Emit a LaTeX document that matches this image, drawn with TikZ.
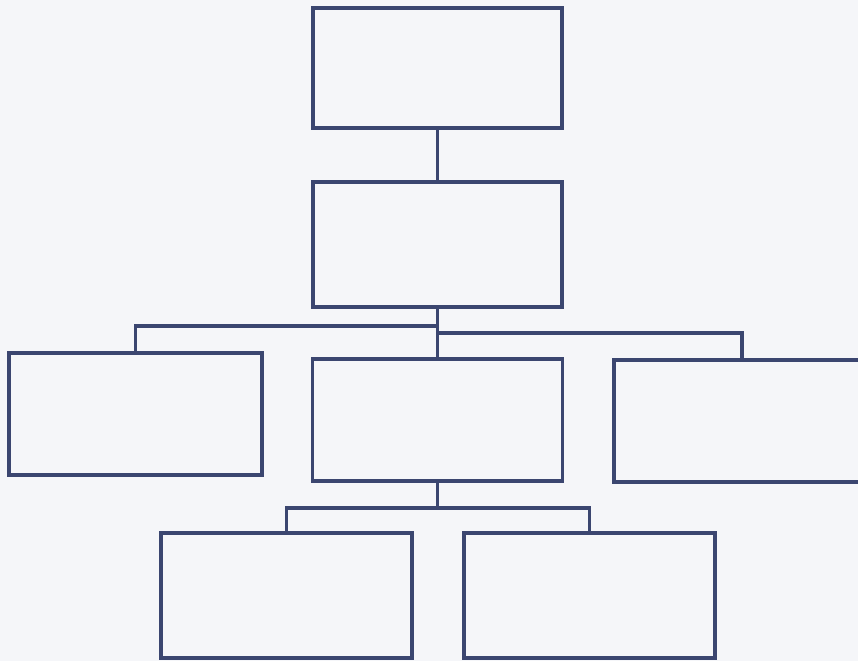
\documentclass[tikz,border=0pt]{standalone}
\definecolor{ink}{HTML}{3B4670}
\definecolor{paper}{HTML}{F5F6F9}
\begin{document}
\begin{tikzpicture}[x=1pt,y=-1pt,
  box/.style={draw=ink, line width=3.6pt, rectangle, inner sep=0pt, outer sep=0pt},
  link/.style={draw=ink, line width=3.2pt, line join=miter}]
\fill[paper] (0,0) rectangle (858,661);
\useasboundingbox (0,0) rectangle (858,661);
\clip (0,0) rectangle (858,661);
\node[box, minimum width=249pt, minimum height=120pt] (top) at (437.5,68) {};
\node[box, minimum width=249pt, minimum height=125pt] (sec) at (437.5,244.5) {};
\node[box, minimum width=253pt, minimum height=122pt] (left) at (135.5,414) {};
\node[box, minimum width=250pt, minimum height=122pt] (mid) at (437.5,420) {};
\node[box, minimum width=256pt, minimum height=122pt] (right) at (742,421) {};
\node[box, minimum width=251pt, minimum height=125pt] (bl) at (286.5,595.5) {};
\node[box, minimum width=251pt, minimum height=125pt] (br) at (589.5,595.5) {};
\coordinate (jl) at (439,326);
\coordinate (jr) at (436,333);
\coordinate (jb) at (437.5,508);
\draw[link] (top.south) -- (sec.north);
\draw[link] (sec.south) -- (mid.north);
\draw[link] (jl) -| (left.north);
\draw[link] (jr) -| (right.north);
\draw[link] (mid.south) -- (jb);
\draw[link] ([xshift=1.6pt]jb) -| (bl.north);
\draw[link] ([xshift=-1.6pt]jb) -| (br.north);
\end{tikzpicture}
\end{document}
